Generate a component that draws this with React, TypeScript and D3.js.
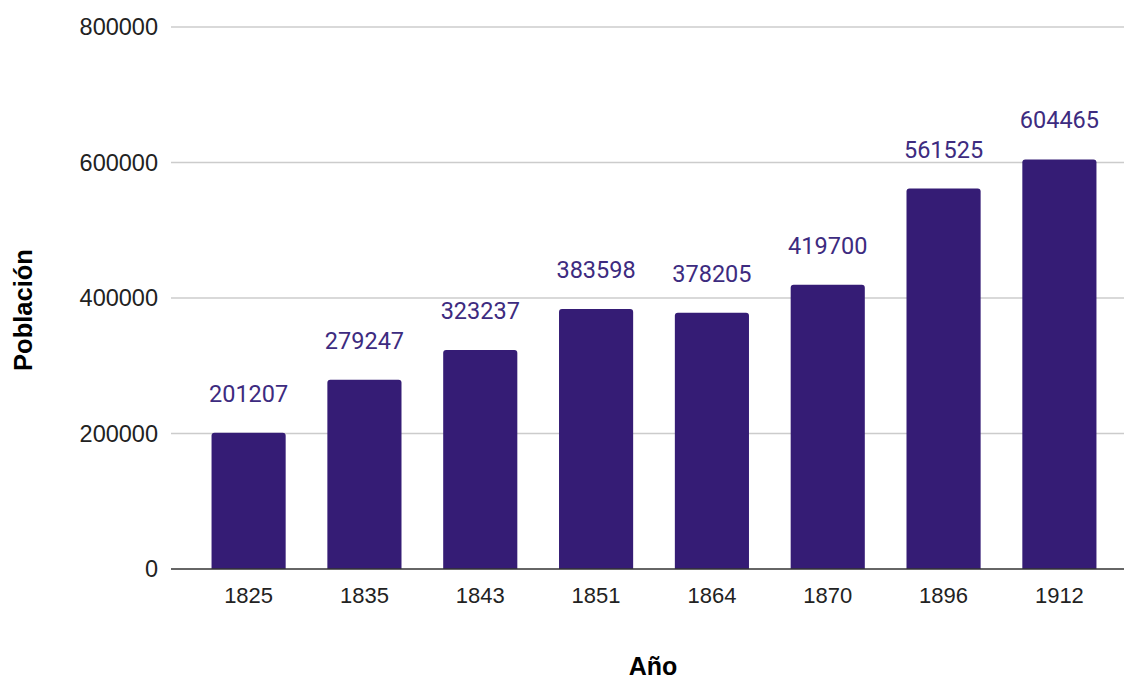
import React from "react";
import * as d3 from "d3";

// Población por año
const years = ["1825", "1835", "1843", "1851", "1864", "1870", "1896", "1912"];
const population = [201207, 279247, 323237, 383598, 378205, 419700, 561525, 604465];
const yTicks = [0, 200000, 400000, 600000, 800000];

const W = 1124;
const H = 679;
const left = 171;
const top = 27;
const bottom = 569;

const BAR = "#351c75";
const LABEL = "#3d2b80";

function topRoundedBar(x: number, y: number, w: number, h: number, r: number) {
  const rr = Math.min(r, h, w / 2);
  const p = d3.path();
  p.moveTo(x, y + h);
  p.lineTo(x, y + rr);
  p.quadraticCurveTo(x, y, x + rr, y);
  p.lineTo(x + w - rr, y);
  p.quadraticCurveTo(x + w, y, x + w, y + rr);
  p.lineTo(x + w, y + h);
  p.closePath();
  return p.toString();
}

export default function App() {
  const x = d3
    .scaleBand<string>()
    .domain(years)
    .range([left, 1137])
    .paddingInner(0.36)
    .paddingOuter(0.35);
  const y = d3.scaleLinear().domain([0, 800000]).range([bottom, top]);

  return (
    <svg
      width={W}
      height={H}
      style={{ position: "absolute", left: 0, top: 0, background: "#fff" }}
      fontFamily="Arial, 'Liberation Sans', sans-serif"
    >
      {/* horizontal grid */}
      {yTicks.map((t) =>
        t === 0 ? null : (
          <line key={t} x1={left} x2={W} y1={y(t)} y2={y(t)} stroke="#cccccc" strokeWidth={1.5} />
        )
      )}
      {/* y tick labels */}
      {yTicks.map((t) => (
        <text
          key={"l" + t}
          x={158}
          y={y(t)}
          dy="0.36em"
          textAnchor="end"
          fontSize={23.5}
          fill="#222"
        >
          {t}
        </text>
      ))}
      {/* bars */}
      {years.map((yr, i) => (
        <path
          key={yr}
          d={topRoundedBar(x(yr)!, y(population[i]), x.bandwidth(), bottom - y(population[i]), 3)}
          fill={BAR}
        />
      ))}
      {/* value labels */}
      {years.map((yr, i) => (
        <text
          key={"v" + yr}
          x={x(yr)! + x.bandwidth() / 2}
          y={y(population[i]) - 31}
          textAnchor="middle"
          fontSize={23.5}
          fontFamily="Roboto, sans-serif"
          fill={LABEL}
        >
          {population[i]}
        </text>
      ))}
      {/* baseline */}
      <line x1={left} x2={W} y1={bottom} y2={bottom} stroke="#333" strokeWidth={1.5} />
      {/* x tick labels */}
      {years.map((yr) => (
        <text
          key={"x" + yr}
          x={x(yr)! + x.bandwidth() / 2}
          y={603}
          textAnchor="middle"
          fontSize={22}
          fill="#222"
        >
          {yr}
        </text>
      ))}
      {/* axis titles */}
      <text x={653} y={675} textAnchor="middle" fontSize={25} fontWeight="bold" fill="#000">
        Año
      </text>
      <text
        transform="translate(32,310) rotate(-90)"
        textAnchor="middle"
        fontSize={25.5}
        fontWeight="bold"
        fill="#000"
      >
        Población
      </text>
    </svg>
  );
}
